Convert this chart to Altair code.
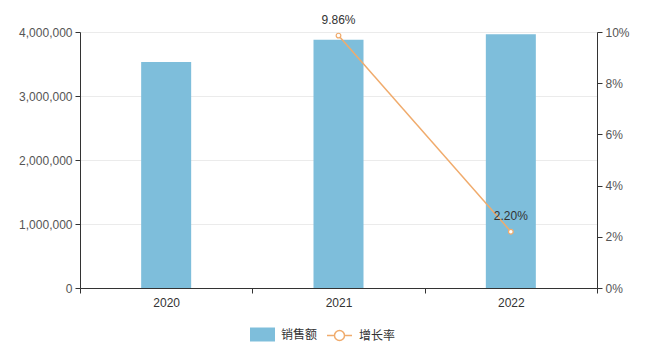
import altair as alt
import pandas as pd

years = ["2020", "2021", "2022"]
sales = [3530000, 3878000, 3963000]
rates = [None, 0.0986, 0.022]
series_names = ["销售额", "增长率"]

BLUE = "#7ebedb"
ORANGE = "#f0ab6c"
FONT = "Liberation Sans, Noto Sans CJK SC"

df = pd.DataFrame({"year": years, "sales": sales, "rate": rates})
df["s1"] = series_names[0]
df["s2"] = series_names[1]

x = alt.X("year:N", title=None, sort=years,
          scale=alt.Scale(paddingInner=0, paddingOuter=0),
          axis=alt.Axis(labelAngle=0, tickBand="extent", domainColor="#333",
                        tickColor="#333", labelColor="#333", labelFontSize=12,
                        labelFont=FONT, tickSize=5, labelPadding=4, grid=False))

rect_path = "M-1,-0.56H1V0.56H-1Z"
line_path = "M-1,0H-0.4M0.4,0H1M0.4,0A0.4,0.4 0 1 1 -0.4,0A0.4,0.4 0 1 1 0.4,0"

legend_common = dict(title=None, orient="none", direction="horizontal",
                     symbolSize=625, labelFont=FONT, labelFontSize=12,
                     labelColor="#333", labelOffset=6)

bars = alt.Chart(df).mark_bar(size=50).encode(
    x=x,
    y=alt.Y("sales:Q", title=None,
            scale=alt.Scale(domain=[0, 4000000], nice=False),
            axis=alt.Axis(values=[0, 1000000, 2000000, 3000000, 4000000], format=",.0f",
                          domainColor="#333", tickColor="#333", labelColor="#555",
                          labelFont=FONT, labelFontSize=12, tickSize=5,
                          gridColor="#ebebeb", labelPadding=3)),
    fill=alt.Fill("s1:N", scale=alt.Scale(domain=[series_names[0]], range=[BLUE]),
                  legend=alt.Legend(legendX=170, legendY=290, symbolType=rect_path,
                                    symbolStrokeWidth=0, **legend_common)),
)

rate_y = alt.Y("rate:Q", title=None,
               scale=alt.Scale(domain=[0, 0.1], nice=False),
               axis=alt.Axis(orient="right", values=[0, 0.02, 0.04, 0.06, 0.08, 0.1],
                             format=".0%", domainColor="#333", tickColor="#333",
                             labelColor="#555", labelFont=FONT, labelFontSize=12,
                             tickSize=5, grid=False, labelPadding=3))

base = alt.Chart(df).transform_filter("isValid(datum.rate)")
line = base.mark_line(strokeWidth=1.5).encode(
    x=x, y=rate_y,
    stroke=alt.Stroke("s2:N", scale=alt.Scale(domain=[series_names[1]], range=[ORANGE]),
                      legend=alt.Legend(legendX=246, legendY=290, symbolType=line_path,
                                        symbolFillColor="white", symbolStrokeWidth=1.5,
                                        **legend_common)))
points = base.mark_point(filled=True, fill="white", stroke=ORANGE, strokeWidth=1.2,
                         size=22, opacity=1).encode(x=x, y=rate_y)
labels = base.mark_text(dy=-16, fontSize=12, font=FONT, color="#333").encode(
    x=x, y=rate_y, text=alt.Text("rate:Q", format=".2%"))

rate_layer = alt.layer(line, points, labels)

chart = alt.layer(bars, rate_layer).resolve_scale(y="independent").properties(
    width=517, height=256, autosize="none",
    padding={"left": 80, "top": 32, "right": 50, "bottom": 65},
    background="white",
).configure_view(stroke=None)

chart.save("out.html", embed_options={"renderer": "svg", "actions": False})
